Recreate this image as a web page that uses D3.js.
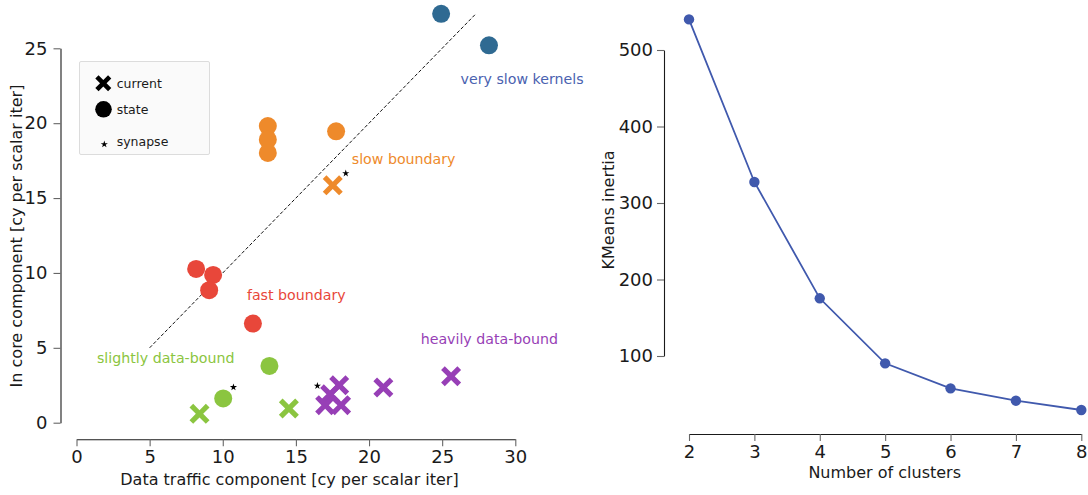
<!DOCTYPE html>
<html>
<head>
<meta charset="utf-8">
<script src="https://cdn.jsdelivr.net/npm/d3@7"></script>
<style>
  html, body { margin: 0; padding: 0; background: #fff; }
  svg { display: block; font-family: "DejaVu Sans", sans-serif; }
</style>
</head>
<body>
<svg id="chart" width="1088" height="495"></svg>
<script>
// ---- cluster labels and colours ----
const clusterNames = ["very slow kernels", "slow boundary", "fast boundary", "slightly data-bound", "heavily data-bound"];
const clusterColors = ["#2f6a92", "#ee8a2b", "#e8473a", "#8bc540", "#973fb6"];
const clusterLabelColors = ["#4a62b0", "#ee8a2b", "#e8473a", "#8bc540", "#973fb6"];

// ---- kernel components: [data traffic, in core, cluster index] ----
const statePoints = [
  [24.93, 27.30, 0], [28.20, 25.20, 0],
  [13.08, 19.81, 1], [13.08, 18.90, 1], [13.08, 18.01, 1], [17.75, 19.46, 1],
  [8.18, 10.27, 2], [9.34, 9.87, 2], [9.07, 8.85, 2], [12.06, 6.62, 2],
  [13.19, 3.79, 3], [10.03, 1.62, 3]
];
const currentPoints = [
  [17.52, 15.85, 1],
  [8.41, 0.59, 3], [14.52, 0.95, 3],
  [25.61, 3.10, 4], [20.98, 2.35, 4], [17.96, 2.50, 4],
  [17.34, 1.90, 4], [17.00, 1.17, 4], [18.09, 1.17, 4]
];
const synapsePoints = [[18.41, 16.65], [10.73, 2.37], [16.47, 2.46]];

// roofline-style diagonal (in core == data traffic)
const diagonalRange = [5, 27.25];

// ---- elbow curve ----
const clusterCounts = [2, 3, 4, 5, 6, 7, 8];
const inertia = [540, 327.5, 175.4, 90.4, 57.7, 41.6, 29.4];

// ---- tick values ----
const scatterXTicks = [0, 5, 10, 15, 20, 25, 30];
const scatterYTicks = [0, 5, 10, 15, 20, 25];
const elbowXTicks = [2, 3, 4, 5, 6, 7, 8];
const elbowYTicks = [100, 200, 300, 400, 500];

// annotation anchors (data coordinates of the text start / baseline)
const clusterLabelAnchors = [[26.26, 22.61], [18.82, 17.27], [11.65, 8.19], [1.4, 3.99], [23.53, 5.25]];

const svg = d3.select("#chart");
const TICK_FONT = 18, LABEL_FONT = 16, NOTE_FONT = 14.2, LEGEND_FONT = 12.5;

function styleAxis(g) {
  g.select(".domain").attr("stroke", "#1a1a1a").attr("stroke-width", 1.1);
  g.selectAll(".tick line").attr("stroke", "#666").attr("stroke-width", 1.1);
  g.selectAll(".tick text").attr("fill", "#1a1a1a").style("font-size", TICK_FONT + "px")
    .style("font-family", "DejaVu Sans");
}

// thick filled "X" marker
function xMarker(h, t) {
  const a = t * Math.SQRT2;
  const p = [
    [-h + a, -h], [0, -a], [h - a, -h], [h, -h + a], [a, 0], [h, h - a],
    [h - a, h], [0, a], [-h + a, h], [-h, h - a], [-a, 0], [-h, -h + a]
  ];
  return "M" + p.map(d => d.join(",")).join("L") + "Z";
}

// =================== scatter panel ===================
const sx = d3.scaleLinear().domain([0, 30]).range([76.5, 515.3]);
const sy = d3.scaleLinear().domain([0, 25]).range([422.7, 48.3]);

const gxS = svg.append("g").attr("transform", "translate(0,439.3)")
  .call(d3.axisBottom(sx).tickValues(scatterXTicks).tickSize(7).tickPadding(4).tickSizeOuter(0));
styleAxis(gxS);
const gyS = svg.append("g").attr("transform", "translate(60.5,0)")
  .call(d3.axisLeft(sy).tickValues(scatterYTicks).tickSize(7).tickPadding(6).tickSizeOuter(0));
styleAxis(gyS);

svg.append("text").attr("x", 289.5).attr("y", 485).attr("text-anchor", "middle")
  .style("font-size", LABEL_FONT + "px").attr("fill", "#1a1a1a")
  .text("Data traffic component [cy per scalar iter]");
svg.append("text").attr("transform", "translate(22,236) rotate(-90)").attr("text-anchor", "middle")
  .style("font-size", LABEL_FONT + "px").attr("fill", "#1a1a1a")
  .text("In core component [cy per scalar iter]");

// diagonal
svg.append("line")
  .attr("x1", sx(diagonalRange[0])).attr("y1", sy(diagonalRange[0]))
  .attr("x2", sx(diagonalRange[1])).attr("y2", sy(diagonalRange[1]))
  .attr("stroke", "#111").attr("stroke-width", 1).attr("stroke-dasharray", "3.5,2");

// state kernels (circles)
svg.append("g").selectAll("circle").data(statePoints).join("circle")
  .attr("cx", d => sx(d[0])).attr("cy", d => sy(d[1])).attr("r", 9)
  .attr("fill", d => clusterColors[d[2]]);

// current kernels (X)
svg.append("g").selectAll("path").data(currentPoints).join("path")
  .attr("transform", d => `translate(${sx(d[0])},${sy(d[1])})`)
  .attr("d", xMarker(10, 2.6))
  .attr("fill", d => clusterColors[d[2]]);

// synapse kernels (stars)
const star = d3.symbol().type(d3.symbolStar).size(16);
svg.append("g").selectAll("path").data(synapsePoints).join("path")
  .attr("transform", d => `translate(${sx(d[0])},${sy(d[1])})`)
  .attr("d", star).attr("fill", "#000");

// cluster annotations
svg.append("g").selectAll("text").data(clusterNames).join("text")
  .attr("x", (d, i) => sx(clusterLabelAnchors[i][0]))
  .attr("y", (d, i) => sy(clusterLabelAnchors[i][1]))
  .attr("fill", (d, i) => clusterLabelColors[i])
  .style("font-size", NOTE_FONT + "px")
  .text(d => d);

// legend
const leg = svg.append("g");
leg.append("rect").attr("x", 79.5).attr("y", 61.5).attr("width", 130).attr("height", 93)
  .attr("fill", "#fafafa").attr("stroke", "#dcdcdc").attr("stroke-width", 1).attr("rx", 1.5);
leg.append("path").attr("transform", "translate(103.3,83.3)").attr("d", xMarker(8, 2.3)).attr("fill", "#000");
leg.append("circle").attr("cx", 103.5).attr("cy", 109.3).attr("r", 8.3).attr("fill", "#000");
leg.append("path").attr("transform", "translate(104.3,144.3)").attr("d", star).attr("fill", "#000");
const legendLabels = ["current", "state", "synapse"];
const legendY = [88, 114, 146];
leg.selectAll("text").data(legendLabels).join("text")
  .attr("x", 116.7).attr("y", (d, i) => legendY[i])
  .style("font-size", LEGEND_FONT + "px").attr("fill", "#1a1a1a").text(d => d);

// =================== elbow panel ===================
const ex = d3.scaleLinear().domain([2, 8]).range([689, 1081.3]);
const ey = d3.scaleLinear().domain([100, 500]).range([356, 50]);

const gxE = svg.append("g").attr("transform", "translate(0,434)")
  .call(d3.axisBottom(ex).tickValues(elbowXTicks).tickFormat(d3.format("d"))
    .tickSize(7).tickPadding(4).tickSizeOuter(0));
styleAxis(gxE);
const gyE = svg.append("g").attr("transform", "translate(664,0)")
  .call(d3.axisLeft(ey).tickValues(elbowYTicks).tickFormat(d3.format("d"))
    .tickSize(7).tickPadding(4).tickSizeOuter(0));
styleAxis(gyE);

svg.append("text").attr("x", 884.7).attr("y", 478).attr("text-anchor", "middle")
  .style("font-size", LABEL_FONT + "px").attr("fill", "#1a1a1a").text("Number of clusters");
svg.append("text").attr("transform", "translate(614,210) rotate(-90)").attr("text-anchor", "middle")
  .style("font-size", LABEL_FONT + "px").attr("fill", "#1a1a1a").text("KMeans inertia");

const elbow = clusterCounts.map((k, i) => [k, inertia[i]]);
svg.append("path").datum(elbow)
  .attr("d", d3.line().x(d => ex(d[0])).y(d => ey(d[1])))
  .attr("fill", "none").attr("stroke", "#4059ad").attr("stroke-width", 1.8);
svg.append("g").selectAll("circle").data(elbow).join("circle")
  .attr("cx", d => ex(d[0])).attr("cy", d => ey(d[1])).attr("r", 5.2)
  .attr("fill", "#4059ad");
</script>
</body>
</html>
